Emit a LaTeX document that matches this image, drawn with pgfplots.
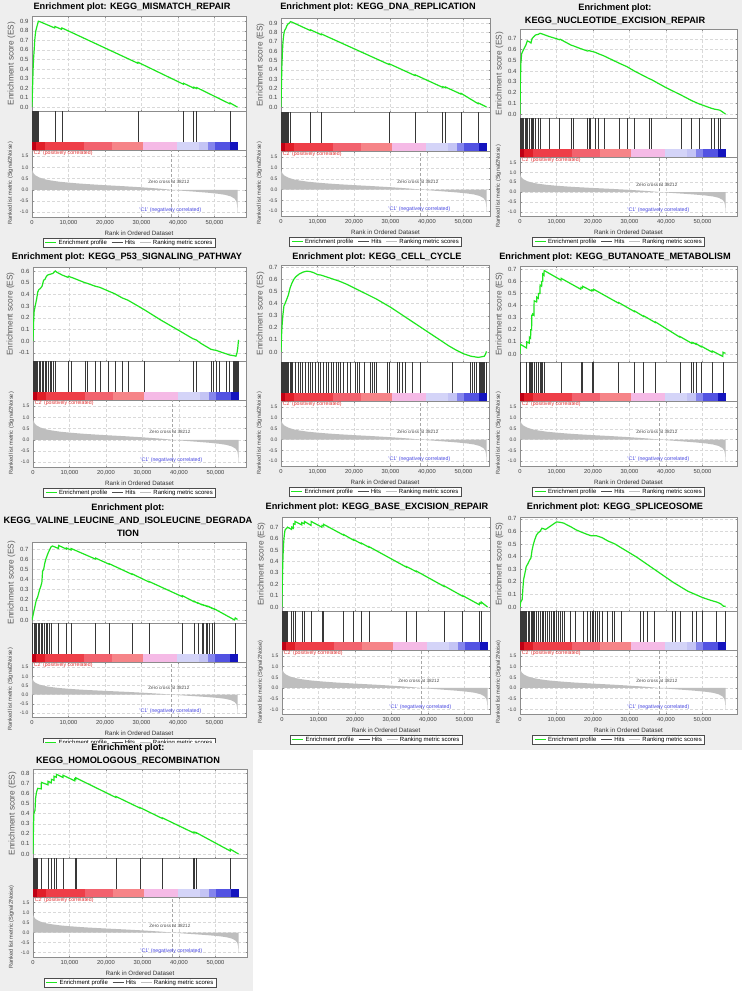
\documentclass[border=0pt]{standalone}
\usepackage{fontspec}
\setmainfont{Liberation Sans}
\usepackage{pgfplots}
\usepackage{pgfplotstable}
\pgfplotsset{compat=1.18}

\definecolor{bg}{RGB}{238,238,238}
\definecolor{esgreen}{RGB}{30,230,30}
\definecolor{rankgray}{RGB}{190,190,190}
\definecolor{cba}{RGB}{190,0,20}
\definecolor{cbb}{RGB}{225,30,40}
\definecolor{cbc}{RGB}{238,62,72}
\definecolor{cbd}{RGB}{242,98,110}
\definecolor{cbe}{RGB}{246,132,136}
\definecolor{cbf}{RGB}{245,186,230}
\definecolor{cbg}{RGB}{212,212,248}
\definecolor{cbh}{RGB}{196,196,245}
\definecolor{cbi}{RGB}{132,132,236}
\definecolor{cbj}{RGB}{82,82,226}
\definecolor{cbk}{RGB}{20,20,190}
\definecolor{ctwo}{RGB}{225,50,50}
\definecolor{cone}{RGB}{70,70,225}
\definecolor{hitgray}{RGB}{77,77,77}
\definecolor{lightline}{RGB}{191,191,191}

% shared ranked list metric
\pgfplotstableread[row sep=\\]{x y\\
0 0\\ 0 1.02\\ 60 0.92\\ 200 0.82\\ 500 0.72\\ 1000 0.64\\ 2000 0.55\\ 3500 0.47\\ 5000 0.42\\ 7500 0.36\\ 10000 0.32\\ 12500 0.285\\ 15000 0.255\\ 20000 0.205\\ 25000 0.16\\ 30000 0.11\\ 35000 0.05\\ 38212 0\\ 41000 -0.04\\ 45000 -0.09\\ 48000 -0.13\\ 51000 -0.18\\ 53000 -0.23\\ 54500 -0.3\\ 55500 -0.4\\ 56000 -0.52\\ 56200 -0.7\\ 56300 -1.0\\ 56300 0\\}\rankdata

% 1 MISMATCH_REPAIR
\pgfplotstableread[row sep=\\]{x y\\
0 0\\ 150 0.2\\ 300 0.4\\ 450 0.52\\ 600 0.6\\ 750 0.7\\ 900 0.76\\ 1050 0.8\\ 1250 0.83\\ 1450 0.86\\ 1600 0.88\\ 1750 0.9\\ 2200 0.895\\ 6200 0.83\\ 6300 0.845\\ 8100 0.815\\ 8200 0.83\\ 29000 0.46\\ 29050 0.47\\ 41500 0.24\\ 41550 0.25\\ 44300 0.2\\ 44350 0.21\\ 45100 0.195\\ 45150 0.205\\ 54200 0.035\\ 54250 0.045\\ 56300 0.0\\}\esA
\pgfplotstableread[row sep=\\]{x\\ 60\\ 150\\ 250\\ 350\\ 450\\ 550\\ 650\\ 800\\ 950\\ 1100\\ 1250\\ 1400\\ 1550\\ 1750\\ 6300\\ 8200\\ 29000\\ 41500\\ 44300\\ 45100\\ 54200\\}\hitA

% 2 DNA_REPLICATION
\pgfplotstableread[row sep=\\]{x y\\
0 0\\ 100 0.2\\ 250 0.45\\ 400 0.6\\ 550 0.7\\ 700 0.76\\ 850 0.8\\ 1000 0.82\\ 1300 0.84\\ 1600 0.87\\ 1900 0.89\\ 2300 0.9\\ 2600 0.915\\ 3000 0.91\\ 8000 0.82\\ 8050 0.828\\ 11000 0.775\\ 11050 0.783\\ 29600 0.455\\ 29650 0.463\\ 36700 0.337\\ 36750 0.345\\ 44300 0.21\\ 44350 0.218\\ 45000 0.206\\ 45050 0.214\\ 49300 0.138\\ 49350 0.146\\ 54000 0.035\\ 54050 0.043\\ 56300 0.0\\}\esB
\pgfplotstableread[row sep=\\]{x\\ 60\\ 150\\ 250\\ 350\\ 450\\ 550\\ 700\\ 850\\ 1000\\ 1200\\ 1400\\ 1600\\ 1900\\ 2600\\ 8000\\ 11000\\ 29600\\ 36700\\ 44300\\ 45000\\ 49300\\ 54000\\}\hitB

% 3 NUCLEOTIDE_EXCISION_REPAIR
\pgfplotstableread[row sep=\\]{x y\\
0 0\\ 100 0.3\\ 250 0.48\\ 450 0.56\\ 700 0.58\\ 1000 0.6\\ 1300 0.62\\ 1600 0.64\\ 2000 0.68\\ 2600 0.67\\ 3000 0.66\\ 3300 0.7\\ 3800 0.72\\ 4300 0.735\\ 5000 0.74\\ 5500 0.75\\ 6000 0.745\\ 8000 0.72\\ 10000 0.7\\ 10800 0.69\\ 11000 0.695\\ 14000 0.64\\ 14500 0.635\\ 16000 0.615\\ 18500 0.585\\ 19000 0.59\\ 19300 0.585\\ 20500 0.575\\ 21500 0.56\\ 23000 0.54\\ 27300 0.47\\ 29300 0.44\\ 31300 0.4\\ 35300 0.33\\ 36000 0.32\\ 40000 0.245\\ 44200 0.175\\ 47000 0.125\\ 49000 0.095\\ 52300 0.055\\ 53300 0.045\\ 54200 0.04\\ 54800 0.035\\ 56300 0.0\\}\esC
\pgfplotstableread[row sep=\\]{x\\ 50\\ 150\\ 250\\ 400\\ 550\\ 750\\ 1000\\ 1300\\ 1600\\ 2000\\ 2600\\ 3000\\ 3300\\ 3700\\ 4300\\ 5000\\ 5500\\ 8000\\ 10800\\ 14000\\ 14500\\ 18500\\ 19000\\ 19300\\ 20500\\ 21500\\ 23000\\ 27300\\ 29300\\ 31300\\ 35300\\ 36000\\ 44200\\ 47000\\ 49000\\ 52300\\ 53300\\ 54200\\ 54800\\}\hitC

% 4 P53_SIGNALING_PATHWAY
\pgfplotstableread[row sep=\\]{x y\\
0 0\\ 150 0.15\\ 300 0.25\\ 600 0.3\\ 1000 0.36\\ 1300 0.42\\ 1600 0.44\\ 2000 0.45\\ 2500 0.47\\ 2900 0.52\\ 3300 0.53\\ 3600 0.55\\ 4000 0.565\\ 4500 0.57\\ 5000 0.575\\ 5500 0.58\\ 6100 0.6\\ 6500 0.59\\ 8000 0.565\\ 9600 0.545\\ 9700 0.555\\ 10500 0.545\\ 11000 0.54\\ 13000 0.515\\ 14200 0.5\\ 14800 0.495\\ 17000 0.47\\ 18300 0.46\\ 20500 0.43\\ 22400 0.405\\ 24400 0.37\\ 26000 0.35\\ 30400 0.27\\ 35000 0.18\\ 40000 0.09\\ 43800 0.02\\ 44700 0.01\\ 46000 -0.02\\ 48700 -0.07\\ 49300 -0.075\\ 50200 -0.08\\ 51100 -0.09\\ 53000 -0.11\\ 53900 -0.12\\ 55000 -0.125\\ 55600 -0.13\\ 55900 -0.1\\ 56100 -0.06\\ 56300 0.01\\}\esD
\pgfplotstableread[row sep=\\]{x\\ 50\\ 300\\ 600\\ 900\\ 1300\\ 1700\\ 2100\\ 2500\\ 2900\\ 3300\\ 3700\\ 4100\\ 4600\\ 5100\\ 5600\\ 6100\\ 9600\\ 10500\\ 14200\\ 14800\\ 17000\\ 18300\\ 20500\\ 22400\\ 24400\\ 26000\\ 30400\\ 43800\\ 44700\\ 48700\\ 49300\\ 50200\\ 51100\\ 53000\\ 53900\\ 54800\\ 55200\\ 55500\\ 55700\\ 55900\\ 56000\\ 56100\\ 56200\\}\hitD

% 5 CELL_CYCLE
\pgfplotstableread[row sep=\\]{x y\\
0 0\\ 100 0.1\\ 250 0.2\\ 500 0.3\\ 800 0.38\\ 1100 0.4\\ 1500 0.43\\ 2000 0.47\\ 2500 0.53\\ 3000 0.57\\ 3500 0.6\\ 4000 0.62\\ 5000 0.645\\ 6000 0.66\\ 7000 0.668\\ 8000 0.665\\ 9000 0.655\\ 10000 0.64\\ 11000 0.635\\ 12000 0.625\\ 14000 0.605\\ 16000 0.585\\ 18000 0.56\\ 20000 0.53\\ 22000 0.5\\ 24000 0.47\\ 26000 0.44\\ 28000 0.405\\ 30000 0.37\\ 32000 0.33\\ 34000 0.29\\ 36000 0.25\\ 38000 0.21\\ 40000 0.17\\ 42000 0.13\\ 44000 0.09\\ 46000 0.05\\ 48000 0.015\\ 50000 -0.015\\ 52000 -0.035\\ 54000 -0.045\\ 55000 -0.04\\ 55700 -0.035\\ 56000 -0.02\\ 56300 0.005\\}\esE
\pgfplotstableread[row sep=\\]{x\\ 50\\ 200\\ 400\\ 600\\ 800\\ 1000\\ 1250\\ 1500\\ 1800\\ 2100\\ 2400\\ 2700\\ 3000\\ 3860\\ 4590\\ 5230\\ 5880\\ 6610\\ 7350\\ 7990\\ 8450\\ 9370\\ 10100\\ 10740\\ 11660\\ 12300\\ 12860\\ 13770\\ 14420\\ 15000\\ 15800\\ 16300\\ 17170\\ 18090\\ 19000\\ 20390\\ 20850\\ 21490\\ 22680\\ 24520\\ 25000\\ 25440\\ 26080\\ 29110\\ 29750\\ 31870\\ 32510\\ 33250\\ 34160\\ 36000\\ 38020\\ 47020\\ 51790\\ 52340\\ 52980\\ 53440\\ 54300\\ 54600\\ 54900\\ 55200\\ 55500\\ 55800\\ 56100\\ 56250\\}\hitE

% 6 BUTANOATE_METABOLISM
\pgfplotstableread[row sep=\\]{x y\\
0 0\\ 100 0.08\\ 1800 0.05\\ 1850 0.1\\ 2540 0.09\\ 2580 0.14\\ 2900 0.13\\ 2950 0.2\\ 3180 0.2\\ 3220 0.32\\ 3460 0.32\\ 3500 0.33\\ 3830 0.32\\ 3870 0.44\\ 4560 0.43\\ 4600 0.47\\ 5020 0.46\\ 5060 0.5\\ 5470 0.5\\ 5510 0.57\\ 5930 0.56\\ 5970 0.6\\ 6210 0.6\\ 6250 0.66\\ 6570 0.65\\ 6610 0.69\\ 11240 0.61\\ 11280 0.625\\ 16650 0.535\\ 16690 0.55\\ 17100 0.545\\ 17140 0.56\\ 19670 0.52\\ 19710 0.53\\ 20130 0.525\\ 20170 0.535\\ 26990 0.42\\ 27030 0.425\\ 31390 0.35\\ 31430 0.355\\ 33860 0.31\\ 33900 0.315\\ 37070 0.26\\ 37110 0.265\\ 43750 0.14\\ 43790 0.145\\ 46960 0.09\\ 47000 0.095\\ 47320 0.09\\ 47360 0.095\\ 48240 0.08\\ 48280 0.085\\ 49610 0.06\\ 49650 0.065\\ 52640 0.015\\ 52680 0.025\\ 55570 -0.02\\ 55610 0.015\\ 56300 0.005\\}\esF
\pgfplotstableread[row sep=\\]{x\\ 100\\ 1830\\ 2560\\ 2930\\ 3200\\ 3480\\ 3850\\ 4580\\ 5040\\ 5490\\ 5950\\ 6230\\ 6590\\ 11260\\ 16670\\ 17120\\ 19690\\ 20150\\ 27010\\ 31410\\ 33880\\ 37090\\ 43770\\ 46980\\ 47340\\ 48260\\ 49630\\ 52660\\ 55590\\}\hitF

% 7 VALINE_LEUCINE_AND_ISOLEUCINE_DEGRADATION
\pgfplotstableread[row sep=\\]{x y\\
0 0\\ 300 0.05\\ 600 0.1\\ 900 0.15\\ 1200 0.2\\ 1500 0.22\\ 1800 0.26\\ 2100 0.3\\ 2400 0.33\\ 2700 0.37\\ 2900 0.48\\ 3200 0.5\\ 3500 0.56\\ 3800 0.6\\ 4100 0.63\\ 4400 0.66\\ 4800 0.69\\ 5200 0.72\\ 5600 0.73\\ 7270 0.705\\ 7290 0.735\\ 9400 0.7\\ 9420 0.71\\ 10690 0.69\\ 10710 0.705\\ 17430 0.6\\ 17450 0.61\\ 21120 0.55\\ 21140 0.555\\ 27400 0.45\\ 27420 0.455\\ 32020 0.375\\ 32040 0.38\\ 41160 0.23\\ 41180 0.24\\ 44380 0.18\\ 44400 0.185\\ 45410 0.165\\ 45430 0.17\\ 46520 0.15\\ 46540 0.153\\ 46980 0.145\\ 47000 0.148\\ 47630 0.138\\ 47650 0.141\\ 48080 0.133\\ 48100 0.136\\ 48540 0.128\\ 48560 0.131\\ 49290 0.115\\ 49310 0.118\\ 50030 0.105\\ 50050 0.108\\ 55500 0.0\\ 55700 0.02\\ 56300 0.005\\}\esG
\pgfplotstableread[row sep=\\]{x\\ 150\\ 500\\ 900\\ 1300\\ 1700\\ 2100\\ 2500\\ 2900\\ 3300\\ 3800\\ 4300\\ 4800\\ 5300\\ 7290\\ 9420\\ 10710\\ 17450\\ 21140\\ 27420\\ 32040\\ 41180\\ 44400\\ 45430\\ 46540\\ 47000\\ 47650\\ 48100\\ 48560\\ 49310\\ 50050\\ 55700\\}\hitG

% 8 BASE_EXCISION_REPAIR
\pgfplotstableread[row sep=\\]{x y\\
0 0\\ 50 0.15\\ 150 0.3\\ 250 0.42\\ 350 0.5\\ 450 0.56\\ 600 0.62\\ 750 0.66\\ 900 0.68\\ 1100 0.685\\ 1300 0.69\\ 1500 0.7\\ 2640 0.68\\ 2660 0.7\\ 3100 0.69\\ 3120 0.73\\ 3560 0.725\\ 3580 0.75\\ 5400 0.72\\ 5420 0.74\\ 6130 0.73\\ 6150 0.75\\ 7970 0.715\\ 7990 0.75\\ 10910 0.7\\ 10930 0.715\\ 11370 0.71\\ 11390 0.725\\ 16880 0.63\\ 16900 0.635\\ 19630 0.585\\ 19650 0.59\\ 21740 0.555\\ 21760 0.56\\ 23760 0.525\\ 23780 0.53\\ 34050 0.35\\ 34070 0.355\\ 36800 0.31\\ 36820 0.315\\ 44420 0.18\\ 44440 0.185\\ 49470 0.095\\ 49490 0.1\\ 54070 0.02\\ 54090 0.035\\ 54530 0.03\\ 54550 0.045\\ 56300 0.0\\}\esH
\pgfplotstableread[row sep=\\]{x\\ 50\\ 150\\ 250\\ 350\\ 450\\ 600\\ 750\\ 900\\ 1100\\ 1300\\ 1500\\ 2660\\ 3120\\ 3580\\ 5420\\ 6150\\ 7990\\ 10930\\ 11390\\ 16900\\ 19650\\ 21760\\ 23780\\ 34070\\ 36820\\ 44440\\ 49490\\ 54090\\ 54550\\}\hitH

% 9 SPLICEOSOME
\pgfplotstableread[row sep=\\]{x y\\
0 0\\ 200 0.04\\ 600 0.06\\ 800 0.15\\ 1000 0.22\\ 1300 0.26\\ 1700 0.32\\ 2100 0.34\\ 2600 0.37\\ 3000 0.39\\ 3300 0.45\\ 3600 0.49\\ 4000 0.53\\ 4500 0.57\\ 5000 0.59\\ 5500 0.6\\ 6000 0.625\\ 7000 0.615\\ 8000 0.635\\ 9000 0.655\\ 10000 0.675\\ 11000 0.672\\ 12000 0.665\\ 13000 0.65\\ 14000 0.635\\ 15500 0.61\\ 17200 0.59\\ 18500 0.575\\ 19500 0.565\\ 21000 0.565\\ 22500 0.55\\ 24000 0.525\\ 26000 0.5\\ 28000 0.465\\ 30000 0.43\\ 32000 0.395\\ 34000 0.355\\ 36000 0.315\\ 38000 0.275\\ 40000 0.235\\ 42000 0.195\\ 44000 0.16\\ 46000 0.125\\ 48000 0.1\\ 50000 0.075\\ 52000 0.055\\ 54000 0.038\\ 55000 0.025\\ 55800 0.005\\ 56300 0.005\\}\esI
\pgfplotstableread[row sep=\\]{x\\ 100\\ 300\\ 500\\ 800\\ 1100\\ 1400\\ 1800\\ 2200\\ 2600\\ 3000\\ 3300\\ 3600\\ 4000\\ 4500\\ 5000\\ 5500\\ 6000\\ 6500\\ 7000\\ 7500\\ 8000\\ 8500\\ 9000\\ 9500\\ 10000\\ 10500\\ 11000\\ 11500\\ 12000\\ 13740\\ 15200\\ 17220\\ 18320\\ 19230\\ 19700\\ 20200\\ 20700\\ 21200\\ 21700\\ 22440\\ 23810\\ 25180\\ 25920\\ 27750\\ 32970\\ 33700\\ 34800\\ 36900\\ 41670\\ 42580\\ 43770\\ 47160\\ 48350\\ 49910\\ 53760\\ 56250\\}\hitI

% 10 HOMOLOGOUS_RECOMBINATION
\pgfplotstableread[row sep=\\]{x y\\
0 0\\ 50 0.1\\ 150 0.3\\ 250 0.4\\ 400 0.42\\ 550 0.43\\ 700 0.55\\ 900 0.6\\ 1100 0.63\\ 1300 0.65\\ 2270 0.645\\ 2290 0.71\\ 4100 0.685\\ 4120 0.72\\ 5020 0.705\\ 5040 0.74\\ 5750 0.73\\ 5770 0.77\\ 6390 0.76\\ 6410 0.79\\ 8220 0.758\\ 8240 0.78\\ 11430 0.725\\ 11450 0.745\\ 11700 0.74\\ 11720 0.755\\ 22690 0.56\\ 22710 0.57\\ 29280 0.455\\ 29300 0.46\\ 35420 0.352\\ 35440 0.358\\ 43940 0.21\\ 43960 0.215\\ 44220 0.21\\ 44240 0.215\\ 44680 0.207\\ 44700 0.212\\ 54020 0.03\\ 54040 0.048\\ 56300 0.0\\}\esJ
\pgfplotstableread[row sep=\\]{x\\ 50\\ 150\\ 250\\ 400\\ 550\\ 700\\ 900\\ 1100\\ 1300\\ 2290\\ 4120\\ 5040\\ 5770\\ 6410\\ 8240\\ 11450\\ 11720\\ 22710\\ 29300\\ 35440\\ 43960\\ 44240\\ 44700\\ 54040\\}\hitJ

\pgfplotsset{
  gbase/.style={scale only axis, anchor=north west, xmin=0,
    xtick={0,10000,20000,30000,40000,50000},
    axis line style={black!45, line width=0.4pt},
    major tick length=1.5pt, tick style={black!45, line width=0.3pt},
    axis background/.style={fill=white},
    grid style={densely dashed, black!15, line width=0.3pt},
    tick label style={text=black!75},
    scaled ticks=false,
    /pgf/number format/assume math mode=true},
}

\newcommand{\cbar}{%
\addplot[fill=cba,draw=none,forget plot] coordinates {(0,-0.26)(1200,-0.26)(1200,0)(0,0)};
\addplot[fill=cbb,draw=none,forget plot] coordinates {(1200,-0.26)(3500,-0.26)(3500,0)(1200,0)};
\addplot[fill=cbc,draw=none,forget plot] coordinates {(3500,-0.26)(14200,-0.26)(14200,0)(3500,0)};
\addplot[fill=cbd,draw=none,forget plot] coordinates {(14200,-0.26)(21900,-0.26)(21900,0)(14200,0)};
\addplot[fill=cbe,draw=none,forget plot] coordinates {(21900,-0.26)(30300,-0.26)(30300,0)(21900,0)};
\addplot[fill=cbf,draw=none,forget plot] coordinates {(30300,-0.26)(39700,-0.26)(39700,0)(30300,0)};
\addplot[fill=cbg,draw=none,forget plot] coordinates {(39700,-0.26)(45700,-0.26)(45700,0)(39700,0)};
\addplot[fill=cbh,draw=none,forget plot] coordinates {(45700,-0.26)(48200,-0.26)(48200,0)(45700,0)};
\addplot[fill=cbi,draw=none,forget plot] coordinates {(48200,-0.26)(50000,-0.26)(50000,0)(48200,0)};
\addplot[fill=cbj,draw=none,forget plot] coordinates {(50000,-0.26)(54300,-0.26)(54300,0)(50000,0)};
\addplot[fill=cbk,draw=none,forget plot] coordinates {(54300,-0.26)(56300,-0.26)(56300,0)(54300,0)};
}

\tikzset{lgtxt/.style={anchor=west, inner sep=0pt, font=\fontsize{6}{7}\selectfont}}

% #1 left  #2 right  #3 ES top  #4 ES bottom  #5 ranked bottom  #6 ymin  #7 ymax  #8 ES table  #9 hits table
\newcommand{\gsea}[9]{%
\pgfmathsetmacro{\W}{#2-#1}%
\pgfmathsetmacro{\HES}{#4-#3}%
\pgfmathsetmacro{\XM}{(#2-#1)/36.5}%
\pgfmathsetmacro{\RT}{#4+39}%
\pgfmathsetmacro{\HR}{#5-#4-39}%
\begin{axis}[gbase, at={(#1pt,-#3pt)}, width=\W pt, height=\HES pt,
  xmax=\XM e4, ymin=#6, ymax=#7, ytick distance=0.1, xticklabels={},
  grid=major,
  ylabel={Enrichment score (ES)},
  ylabel style={font=\fontsize{8.3}{9}\selectfont, text=black!65, yshift=-2pt},
  yticklabel style={font=\fontsize{6}{7}\selectfont, /pgf/number format/fixed, /pgf/number format/fixed zerofill, /pgf/number format/precision=1}]
\addplot[esgreen, line width=1.2pt] table[x=x, y=y] {#8};
\end{axis}
\begin{axis}[gbase, at={(#1pt,-#4pt)}, width=\W pt, height=39pt,
  xmax=\XM e4, ymin=-0.26, ymax=1, ticks=none]
\addplot[ycomb, mark=none, black!78, line width=0.5pt, forget plot] table[x index=0, y index=0, y expr=1] {#9};
\cbar
\end{axis}
\begin{axis}[gbase, name=rk, at={(#1pt,-\RT pt)}, width=\W pt, height=\HR pt,
  xmax=\XM e4, ymin=-1.22, ymax=1.78, ytick distance=0.5, grid=major,
  xlabel={Rank in Ordered Dataset},
  xlabel style={font=\fontsize{6.2}{7}\selectfont, text=black!80, yshift=1pt},
  ylabel={Ranked list metric (Signal2Noise)},
  ylabel style={font=\fontsize{5.6}{6}\selectfont, text=black!75},
  xticklabel style={font=\fontsize{5.8}{6}\selectfont, /pgf/number format/fixed, /pgf/number format/precision=0, /pgf/number format/1000 sep={,}},
  yticklabel style={font=\fontsize{5}{6}\selectfont, /pgf/number format/fixed, /pgf/number format/fixed zerofill, /pgf/number format/precision=1}]
\addplot[fill=rankgray, draw=none, forget plot] table[x=x, y=y] {\rankdata};
\addplot[densely dashed, black!35, line width=0.4pt, forget plot] coordinates {(38212,-1.22)(38212,1.78)};
\node[font=\fontsize{4.6}{5}\selectfont, text=black!70] at (axis cs:37500,0.35) {Zero cross at 38212};
\node[font=\fontsize{5.2}{6}\selectfont, text=ctwo, anchor=north west, inner sep=0.5pt] at (rel axis cs:0,1) {'C2' (positively correlated)};
\node[font=\fontsize{5.2}{6}\selectfont, text=cone] at (axis cs:37900,-0.92) {'C1' (negatively correlated)};
\end{axis}
\node[anchor=north, draw=black!70, fill=white, minimum width=172pt, minimum height=9.5pt, inner sep=0pt] (lg) at ([xshift=-10pt, yshift=-20.5pt]rk.south) {};
\draw[esgreen, line width=1.3pt] ([xshift=2.5pt]lg.west) -- ++(11pt,0pt);
\node[lgtxt] (e1) at ([xshift=15.5pt]lg.west) {Enrichment profile};
\node[lgtxt] (e2) at ([xshift=17.5pt]e1.east) {Hits};
\draw[hitgray, line width=0.7pt] ([xshift=-13pt]e2.west) -- ++(11pt,0pt);
\node[lgtxt] (e3) at ([xshift=17.5pt]e2.east) {Ranking metric scores};
\draw[lightline, line width=0.6pt] ([xshift=-13pt]e3.west) -- ++(11pt,0pt);
}

\tikzset{ttl/.style={font=\fontsize{9.2}{12.8}\selectfont\bfseries, align=center, inner sep=0pt}}

\begin{document}
\begin{tikzpicture}
\fill[white] (0pt,0pt) rectangle (742pt,-991pt);
\useasboundingbox (0pt,0pt) rectangle (742pt,-991pt);
\fill[bg] (0pt,0pt) rectangle (742pt,-750pt);

\gsea{32}{246}{16}{111}{217}{-0.04}{0.955}{\esA}{\hitA}
\gsea{281}{490}{18}{112}{216}{-0.054}{0.954}{\esB}{\hitB}
\gsea{520}{737}{29}{118}{216}{-0.037}{0.79}{\esC}{\hitC}
\gsea{33}{246}{267}{361}{467}{-0.171}{0.634}{\esD}{\hitD}
\gsea{281}{489}{265}{362}{466}{-0.083}{0.719}{\esE}{\hitE}
\gsea{520}{737}{266}{362}{466}{-0.066}{0.727}{\esF}{\hitF}
\gsea{32}{246}{542}{623}{717}{-0.03}{0.769}{\esG}{\hitG}
\gsea{282}{490}{517}{611}{714}{-0.035}{0.789}{\esH}{\hitH}
\gsea{520}{737}{517}{611}{714}{-0.032}{0.714}{\esI}{\hitI}

% panel 10 lies over the bottom of panel 7's legend
\fill[bg] (0pt,-743pt) rectangle (253pt,-991pt);
\gsea{33}{247}{769}{858}{957}{-0.04}{0.842}{\esJ}{\hitJ}

\node[ttl] at (132pt,-7.5pt) {Enrichment plot: KEGG\_MISMATCH\_REPAIR};
\node[ttl] at (378pt,-7.5pt) {Enrichment plot: KEGG\_DNA\_REPLICATION};
\node[ttl] at (615pt,-14pt) {Enrichment plot:\\KEGG\_NUCLEOTIDE\_EXCISION\_REPAIR};
\node[ttl] at (127pt,-257pt) {Enrichment plot: KEGG\_P53\_SIGNALING\_PATHWAY};
\node[ttl] at (377pt,-257pt) {Enrichment plot: KEGG\_CELL\_CYCLE};
\node[ttl] at (615pt,-257pt) {Enrichment plot: KEGG\_BUTANOATE\_METABOLISM};
\node[ttl] at (128pt,-520pt) {Enrichment plot:\\KEGG\_VALINE\_LEUCINE\_AND\_ISOLEUCINE\_DEGRADA\\TION};
\node[ttl] at (377pt,-507pt) {Enrichment plot: KEGG\_BASE\_EXCISION\_REPAIR};
\node[ttl] at (615pt,-507pt) {Enrichment plot: KEGG\_SPLICEOSOME};
\node[ttl] at (128pt,-754pt) {Enrichment plot:\\KEGG\_HOMOLOGOUS\_RECOMBINATION};
\end{tikzpicture}
\end{document}
